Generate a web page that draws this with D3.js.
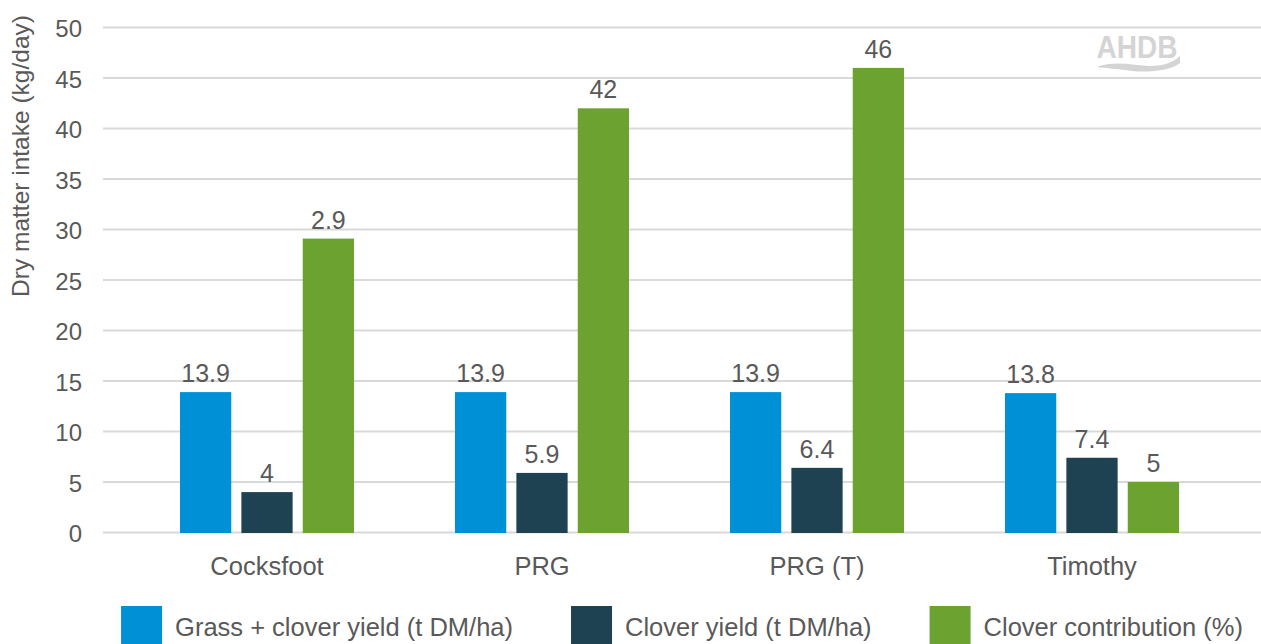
<!DOCTYPE html>
<html>
<head>
<meta charset="utf-8">
<script src="https://cdn.jsdelivr.net/npm/d3@7"></script>
<style>
  html, body { margin: 0; padding: 0; background: #fff; }
  svg { display: block; font-family: "Liberation Sans", Arial, Helvetica, sans-serif; }
</style>
</head>
<body>
<svg id="chart" width="1261" height="644"></svg>
<script>
// Sward types compared
const categories = ["Cocksfoot", "PRG", "PRG (T)", "Timothy"];

// Series
const seriesNames = [
  "Grass + clover yield (t DM/ha)",
  "Clover yield (t DM/ha)",
  "Clover contribution (%)"
];
const grassCloverYield = [13.9, 13.9, 13.9, 13.8];
const cloverYield = [4, 5.9, 6.4, 7.4];
const cloverContribution = [29.1, 42, 46, 5];

// Value labels printed above the bars
const grassCloverLabels = ["13.9", "13.9", "13.9", "13.8"];
const cloverYieldLabels = ["4", "5.9", "6.4", "7.4"];
const cloverContributionLabels = ["2.9", "42", "46", "5"];

const yTicks = [0, 5, 10, 15, 20, 25, 30, 35, 40, 45, 50];
const yTitle = "Dry matter intake (kg/day)";

const colors = ["#0090d5", "#1f4252", "#6ca22f"];
const textColor = "#595959";

const series = [
  { name: seriesNames[0], values: grassCloverYield, labels: grassCloverLabels, color: colors[0] },
  { name: seriesNames[1], values: cloverYield, labels: cloverYieldLabels, color: colors[1] },
  { name: seriesNames[2], values: cloverContribution, labels: cloverContributionLabels, color: colors[2] }
];

const svg = d3.select("#chart");

const gridLeft = 103, gridRight = 1261;
const x0 = d3.scaleBand().domain(categories).range([129.5, 1229.5]).paddingInner(0).paddingOuter(0);
const x1 = d3.scaleBand().domain(d3.range(series.length)).range([50.5, 224.5]).paddingInner(0.165).paddingOuter(0);
const y = d3.scaleLinear().domain([0, 50]).range([532.5, 27.5]);

// Horizontal gridlines
svg.append("g")
  .selectAll("line")
  .data(yTicks)
  .join("line")
  .attr("x1", gridLeft).attr("x2", gridRight)
  .attr("y1", d => y(d)).attr("y2", d => y(d))
  .attr("stroke", "#d9d9d9").attr("stroke-width", 2);

// Y axis tick labels
const yAxis = d3.axisLeft(y).tickValues(yTicks).tickSize(0).tickPadding(0);
const gy = svg.append("g").attr("transform", "translate(82,0)").call(yAxis);
gy.select(".domain").remove();
gy.selectAll("text")
  .attr("fill", textColor)
  .attr("font-size", 24)
  .attr("font-family", "Liberation Sans, Arial, sans-serif")
  .attr("dy", "0.38em")
  .attr("text-anchor", "end");

// Y axis title
svg.append("text")
  .attr("transform", "translate(29,156) rotate(-90)")
  .attr("text-anchor", "middle")
  .attr("fill", textColor)
  .attr("font-size", 24.5)
  .text(yTitle);

// Bars
const groups = svg.append("g")
  .selectAll("g")
  .data(categories)
  .join("g")
  .attr("transform", d => `translate(${x0(d)},0)`);

groups.selectAll("rect")
  .data((c, ci) => series.map((s, si) => ({ si, v: s.values[ci], label: s.labels[ci], color: s.color })))
  .join("rect")
  .attr("x", d => x1(d.si))
  .attr("width", x1.bandwidth())
  .attr("y", d => y(d.v))
  .attr("height", d => y(0) - y(d.v) + 0.5)
  .attr("fill", d => d.color);

groups.selectAll("text.val")
  .data((c, ci) => series.map((s, si) => ({ si, v: s.values[ci], label: s.labels[ci] })))
  .join("text")
  .attr("class", "val")
  .attr("x", d => x1(d.si) + x1.bandwidth() / 2)
  .attr("y", d => y(d.v) - 10)
  .attr("text-anchor", "middle")
  .attr("fill", textColor)
  .attr("font-size", 25)
  .text(d => d.label);

// Category axis labels
const xAxis = d3.axisBottom(x0).tickSize(0).tickPadding(0);
const gx = svg.append("g").attr("transform", "translate(0,575)").call(xAxis);
gx.select(".domain").remove();
gx.selectAll("text")
  .attr("fill", textColor)
  .attr("font-size", 25.5)
  .attr("font-family", "Liberation Sans, Arial, sans-serif")
  .attr("dy", 0);

// Legend, centred under the plot
const legend = svg.append("g");
const items = legend.selectAll("g")
  .data(series)
  .join("g");
items.append("rect")
  .attr("width", 41).attr("height", 40)
  .attr("y", 606)
  .attr("fill", d => d.color);
items.append("text")
  .attr("x", 54).attr("y", 636)
  .attr("fill", textColor)
  .attr("font-size", 25.5)
  .text(d => d.name);
const widths = [];
items.each(function () { widths.push(this.querySelector("text").getComputedTextLength() + 54); });
const itemGap = 58;
const total = d3.sum(widths) + itemGap * (widths.length - 1);
let cursor = (gridLeft + gridRight) / 2 - total / 2;
items.attr("transform", (d, i) => {
  const t = `translate(${cursor},0)`;
  cursor += widths[i] + itemGap;
  return t;
});

// Watermark logo
const logo = svg.append("g").attr("fill", "#d4d4d4");
logo.append("text")
  .attr("x", 1137).attr("y", 58)
  .attr("text-anchor", "middle")
  .attr("font-size", 31)
  .attr("font-weight", "bold")
  .attr("textLength", 81)
  .attr("lengthAdjust", "spacingAndGlyphs")
  .text("AHDB");
logo.append("path")
  .attr("d", "M1097,67 C1115,60 1135,66 1150,66 C1165,66 1175,61 1180,56 L1180,63 C1172,70 1150,73 1132,71 C1118,69 1106,68 1097,67 Z");
</script>
</body>
</html>
